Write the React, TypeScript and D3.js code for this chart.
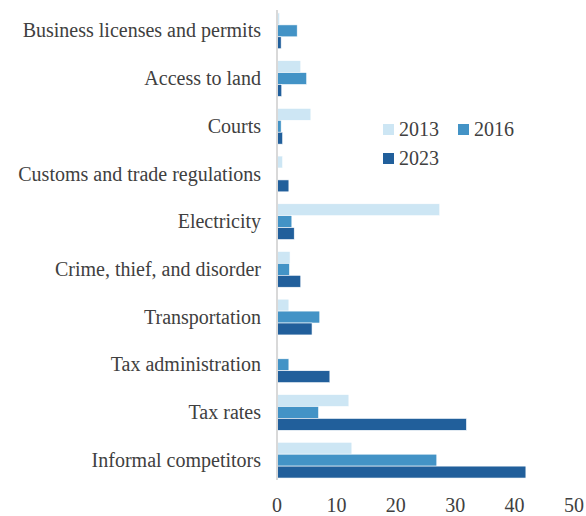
import React, { useEffect, useRef } from 'react';
import * as d3 from 'd3';

const categories = [
  'Business licenses and permits',
  'Access to land',
  'Courts',
  'Customs and trade regulations',
  'Electricity',
  'Crime, thief, and disorder',
  'Transportation',
  'Tax administration',
  'Tax rates',
  'Informal competitors',
];

const years = ['2013', '2016', '2023'];

const values2013 = [0.45, 4.0, 5.7, 0.95, 27.4, 2.2, 2.0, 0.2, 12.1, 12.6];
const values2016 = [3.4, 5.0, 0.7, 0, 2.5, 2.1, 7.2, 2.0, 7.0, 26.9];
const values2023 = [0.7, 0.8, 0.95, 2.0, 2.9, 4.0, 5.9, 8.9, 31.9, 41.9];

const xTicks = [0, 10, 20, 30, 40, 50];

const colors = ['#cde6f4', '#4393c6', '#215f9b'];

const App: React.FC = () => {
  const svgRef = useRef<SVGSVGElement>(null);

  useEffect(() => {
    if (!svgRef.current) return;
    const svg = d3.select(svgRef.current);
    svg.selectAll('*').remove();

    const font = "'Liberation Serif', 'DejaVu Serif', serif";
    const textColor = '#404040';
    const series = [values2013, values2016, values2023];

    const x = d3.scaleLinear().domain([0, 50]).range([277, 574]);
    const y0 = d3.scaleBand<string>()
      .domain(categories)
      .range([7, 484])
      .paddingInner(0.25)
      .paddingOuter(0.125);
    const y1 = d3.scaleBand<string>()
      .domain(years)
      .range([0, y0.bandwidth()]);

    // bars
    const groups = svg.append('g')
      .selectAll('g')
      .data(categories)
      .join('g')
      .attr('transform', d => `translate(0,${y0(d)})`);

    groups.selectAll('rect')
      .data((_, i) => years.map((yr, j) => ({ yr, v: series[j][i], c: colors[j] })))
      .join('rect')
      .attr('x', x(0))
      .attr('y', d => y1(d.yr)!)
      .attr('width', d => Math.max(0, x(d.v) - x(0)))
      .attr('height', y1.bandwidth())
      .attr('fill', d => d.c)
      .attr('stroke', '#ffffff')
      .attr('stroke-width', 0.6);

    // axis line
    svg.append('line')
      .attr('x1', x(0)).attr('x2', x(0))
      .attr('y1', 10).attr('y2', 480)
      .attr('stroke', '#d9d9d9')
      .attr('stroke-width', 2);

    // category labels
    svg.append('g')
      .selectAll('text')
      .data(categories)
      .join('text')
      .attr('x', 261)
      .attr('y', d => y0(d)! + y0.bandwidth() / 2)
      .attr('dy', '0.33em')
      .attr('text-anchor', 'end')
      .attr('font-family', font)
      .attr('font-size', 20)
      .attr('fill', textColor)
      .text(d => d);

    // x tick labels
    svg.append('g')
      .selectAll('text')
      .data(xTicks)
      .join('text')
      .attr('x', d => x(d))
      .attr('y', 512)
      .attr('text-anchor', 'middle')
      .attr('font-family', font)
      .attr('font-size', 20)
      .attr('fill', textColor)
      .text(d => d);

    // legend
    const legendPos = [
      { x: 383, y: 124 },
      { x: 458, y: 124 },
      { x: 383, y: 153 },
    ];
    const legend = svg.append('g')
      .selectAll('g')
      .data(years)
      .join('g')
      .attr('transform', (_, i) => `translate(${legendPos[i].x},${legendPos[i].y})`);
    legend.append('rect')
      .attr('width', 11)
      .attr('height', 11)
      .attr('fill', (_, i) => colors[i]);
    legend.append('text')
      .attr('x', 16)
      .attr('y', 12)
      .attr('font-family', font)
      .attr('font-size', 20)
      .attr('fill', textColor)
      .text(d => d);
  }, []);

  return (
    <svg
      ref={svgRef}
      width={586}
      height={516}
      style={{ position: 'absolute', left: 0, top: 0, background: '#fff' }}
    />
  );
};

export default App;
